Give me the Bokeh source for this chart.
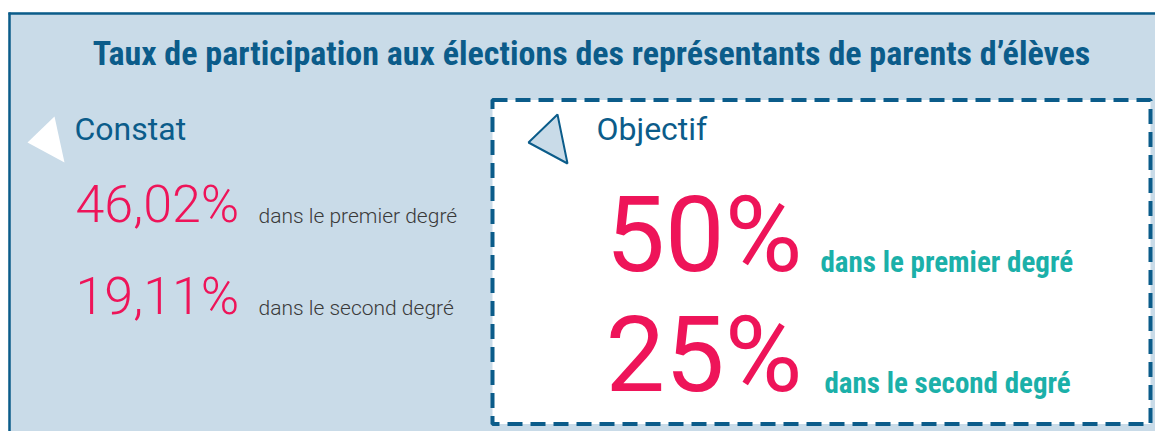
from bokeh.plotting import figure
from bokeh.models import Range1d
from bokeh.core.properties import value
from bokeh.embed import file_html
from bokeh.resources import INLINE

title = "Taux de participation aux élections des représentants de parents d’élèves"
constat_label = "Constat"
objectif_label = "Objectif"
constat_values = ["46,02%", "19,11%"]
objectif_values = ["50%", "25%"]
degree_labels = ["dans le premier degré", "dans le second degré"]

DARK = "#0B5C8A"
LIGHT = "#C9DBE8"
PINK = "#EE1459"
TEAL = "#1BB0A9"
GRAY = "#3A3A3A"
COND = "'Roboto Condensed', 'Liberation Sans Narrow', Roboto"

W, H = 1155, 431
p = figure(width=W, height=H, output_backend="svg", toolbar_location=None,
           x_range=Range1d(0, W), y_range=Range1d(H, 0),
           min_border=0, outline_line_color=None, background_fill_color="white",
           border_fill_color="white")
p.axis.visible = False
p.grid.visible = False


def base(y, size):
    # place the text so that its baseline lands at y
    return y - 0.36 * size


# outer panel
p.quad(left=[8], right=[1300], top=[12], bottom=[600], fill_color=LIGHT, line_color=None)
p.segment(x0=[8], y0=[13], x1=[1300], y1=[13], line_color=DARK, line_width=2.5)
p.segment(x0=[9], y0=[12], x1=[9], y1=[600], line_color=DARK, line_width=2.5)

# title
p.text(x=[591], y=[base(65, 34)], text=[title], text_font=value(COND), text_font_style="bold",
       text_font_size="34px", text_color=DARK, text_align="center", text_baseline="alphabetic")

# left section
p.patch(x=[27, 54, 64], y=[142, 116, 162], fill_color="white", line_color=None)
p.text(x=[74], y=[base(140, 32)], text=[constat_label], text_font=value("Roboto"),
       text_font_size="32px", text_color=DARK, text_baseline="alphabetic")
p.text(x=[75, 75], y=[base(223, 52), base(315, 52)], text=constat_values,
       text_font=value("Roboto Light"),
       text_font_size="52px", text_color=PINK, text_baseline="alphabetic")
p.text(x=[258, 258], y=[base(223, 21), base(315, 21)], text=degree_labels,
       text_font=value("Roboto Light"),
       text_font_size="21px", text_color=GRAY, text_baseline="alphabetic")

# right dashed box
p.quad(left=[492], right=[1150], top=[99.5], bottom=[423.5], fill_color="white",
       line_color=DARK, line_width=4, line_dash="15 8")
p.patch(x=[528, 557, 567], y=[142, 114, 163], fill_color=LIGHT, line_color=DARK, line_width=2)
p.text(x=[596], y=[base(140, 32)], text=[objectif_label], text_font=value("Roboto"),
       text_font_size="32px", text_color=DARK, text_baseline="alphabetic")
p.text(x=[605, 605], y=[base(273, 106), base(393, 106)], text=objectif_values,
       text_font=value("Roboto"),
       text_font_size="106px", text_color=PINK, text_baseline="alphabetic")
p.text(x=[820, 824], y=[base(272, 29), base(393, 29)], text=degree_labels, text_font=value(COND),
       text_font_style="bold", text_font_size="29px", text_color=TEAL, text_baseline="alphabetic")

open("out.html", "w").write(file_html(p, INLINE))
